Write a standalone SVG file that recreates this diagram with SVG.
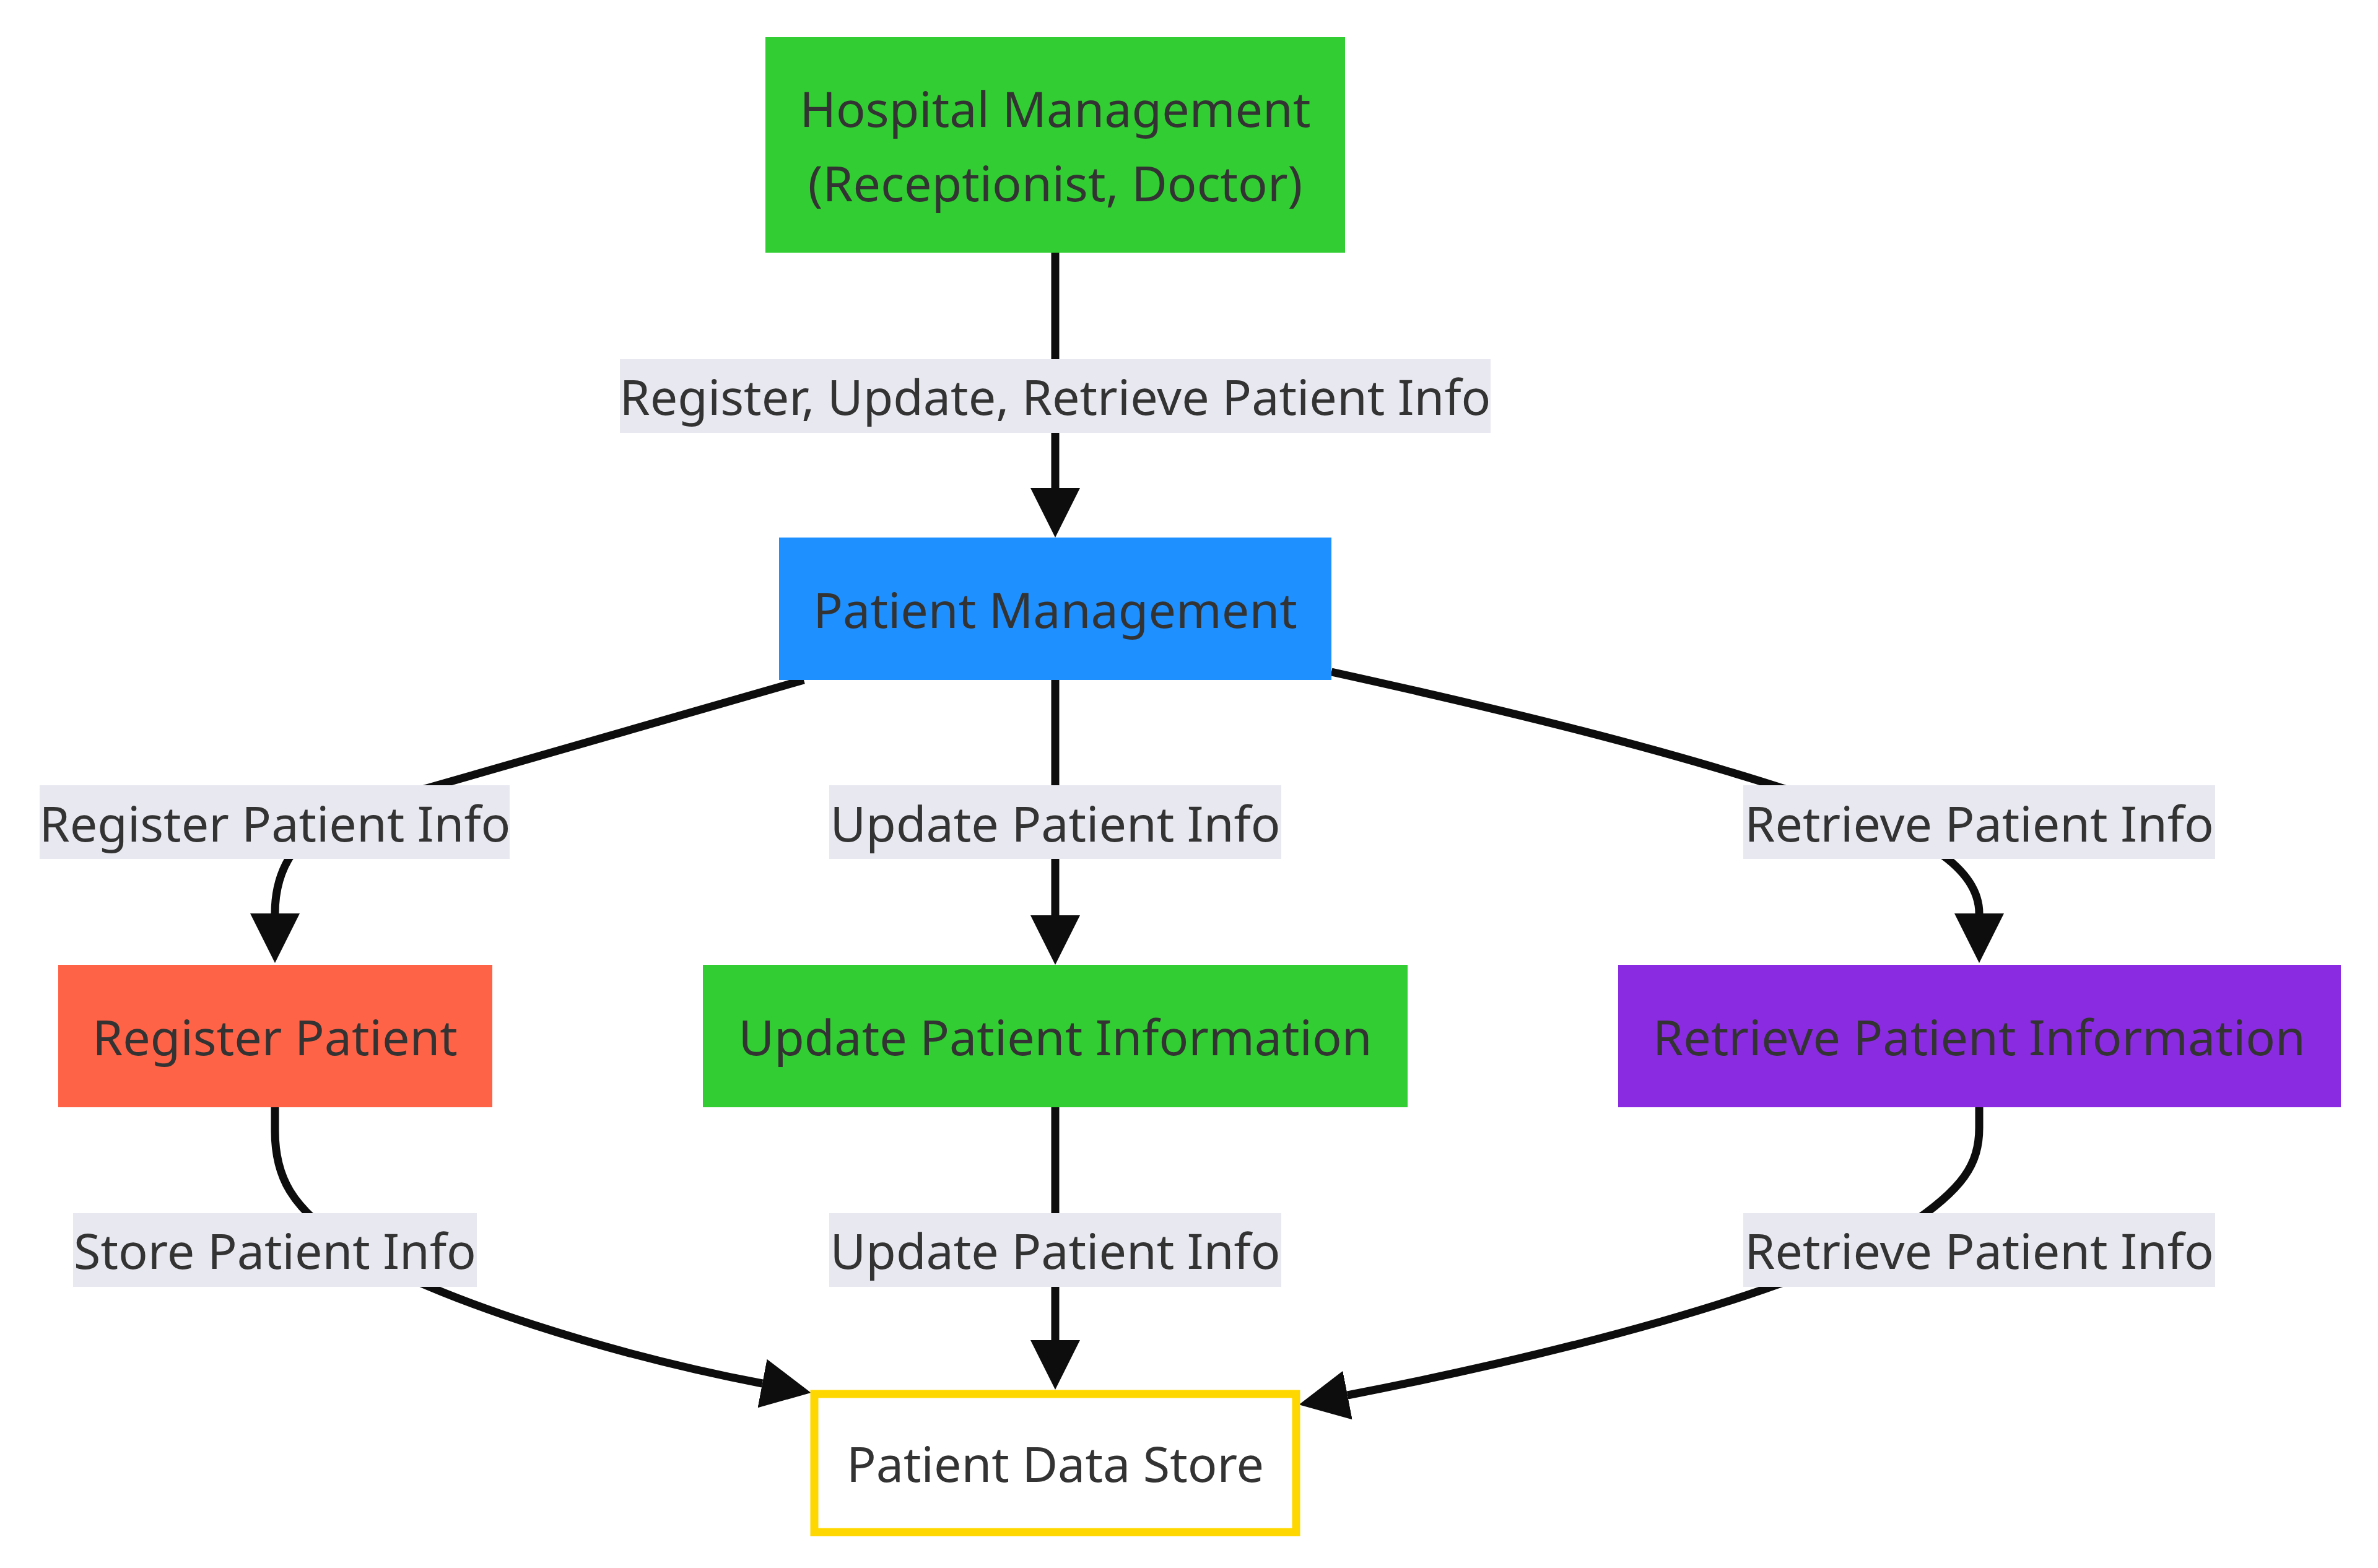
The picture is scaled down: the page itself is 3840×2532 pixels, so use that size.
<svg xmlns="http://www.w3.org/2000/svg" width="3840" height="2532" viewBox="0 0 3840 2532">
  <style>
    .node-label, .edge-label-text { font-family: "Noto Sans", "Open Sans", sans-serif; font-size: 79px; fill: #333333; text-anchor: middle; }
    .edge { fill: none; stroke: #0d0d0d; stroke-width: 13; marker-end: url(#arrow); }
    .label-bg { fill: #e8e8f1; }
  </style>
  <defs>
    <marker id="arrow" viewBox="0 0 10 10" refX="0" refY="5" markerUnits="userSpaceOnUse" markerWidth="80" markerHeight="84" orient="auto">
      <path d="M0,0 L10,5 L0,10 z" fill="#0d0d0d"/>
    </marker>
  </defs>
  <rect width="3840" height="2532" fill="#ffffff"/>

  <g id="connectors">
    <path class="edge" d="M1704,408 L1704,788"/>
    <path class="edge" d="M1298,1098 C1000,1185 720,1265 560,1310 C480,1345 444,1400 444,1475"/>
    <path class="edge" d="M1704,1098 L1704,1478"/>
    <path class="edge" d="M2150,1085 C2400,1140 2700,1210 2960,1300 C3100,1345 3196,1400 3196,1475"/>
    <path class="edge" d="M444,1788 L444,1826 C444,1900 470,1950 560,2010 C700,2100 1000,2190 1231,2234"/>
    <path class="edge" d="M1704,1788 L1704,2164"/>
    <path class="edge" d="M3196,1788 L3196,1821 C3196,1880 3170,1920 3080,1980 C2900,2090 2500,2190 2176,2253"/>
  </g>

  <g id="edge-labels">
    <g id="label-hm-pm">
      <rect class="label-bg" x="1001" y="580" width="1406" height="119"/>
      <text class="edge-label-text" x="1704" y="670">Register, Update, Retrieve Patient Info</text>
    </g>
    <g id="label-pm-rp">
      <rect class="label-bg" x="64" y="1268" width="759" height="119"/>
      <text class="edge-label-text" x="444" y="1359">Register Patient Info</text>
    </g>
    <g id="label-pm-up">
      <rect class="label-bg" x="1339" y="1268" width="730" height="119"/>
      <text class="edge-label-text" x="1704" y="1359">Update Patient Info</text>
    </g>
    <g id="label-pm-rt">
      <rect class="label-bg" x="2815" y="1268" width="762" height="119"/>
      <text class="edge-label-text" x="3196" y="1359">Retrieve Patient Info</text>
    </g>
    <g id="label-rp-ds">
      <rect class="label-bg" x="118" y="1959" width="652" height="119"/>
      <text class="edge-label-text" x="444" y="2049">Store Patient Info</text>
    </g>
    <g id="label-up-ds">
      <rect class="label-bg" x="1339" y="1959" width="730" height="119"/>
      <text class="edge-label-text" x="1704" y="2049">Update Patient Info</text>
    </g>
    <g id="label-rt-ds">
      <rect class="label-bg" x="2815" y="1959" width="762" height="119"/>
      <text class="edge-label-text" x="3196" y="2049">Retrieve Patient Info</text>
    </g>
  </g>

  <g id="node-hospital-management">
    <rect x="1236" y="60" width="936" height="348" fill="#32cd32"/>
    <text class="node-label" x="1704" y="205">Hospital Management</text>
    <text class="node-label" x="1704" y="325">(Receptionist, Doctor)</text>
  </g>
  <g id="node-patient-management">
    <rect x="1258" y="868" width="892" height="230" fill="#1e90ff"/>
    <text class="node-label" x="1704" y="1014">Patient Management</text>
  </g>
  <g id="node-register-patient">
    <rect x="94" y="1558" width="701" height="230" fill="#ff6347"/>
    <text class="node-label" x="444" y="1704">Register Patient</text>
  </g>
  <g id="node-update-patient">
    <rect x="1135" y="1558" width="1138" height="230" fill="#32cd32"/>
    <text class="node-label" x="1704" y="1704">Update Patient Information</text>
  </g>
  <g id="node-retrieve-patient">
    <rect x="2613" y="1558" width="1167" height="230" fill="#8a2be2"/>
    <text class="node-label" x="3196" y="1704">Retrieve Patient Information</text>
  </g>
  <g id="node-patient-data-store">
    <rect x="1315" y="2251" width="778" height="223" fill="#ffffff" stroke="#ffd700" stroke-width="13"/>
    <text class="node-label" x="1704" y="2393">Patient Data Store</text>
  </g>
</svg>
